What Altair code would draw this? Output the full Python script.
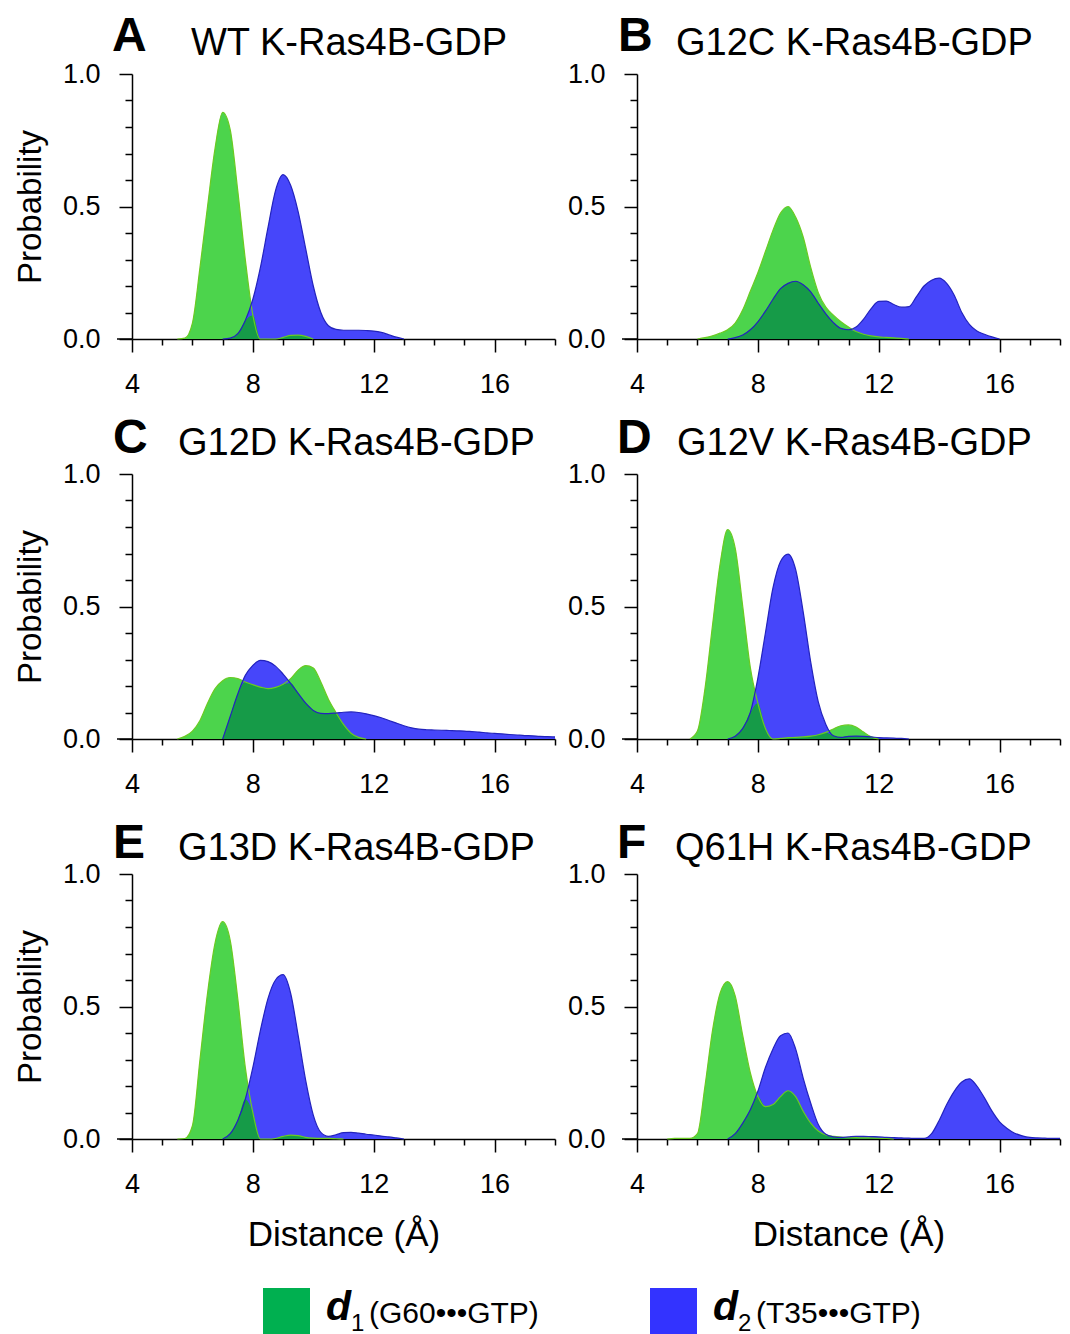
import altair as alt
import pandas as pd

N = None

# ---------------- data ----------------
DISTANCE = [5.0, 5.25, 5.5, 5.75, 6.0, 6.25, 6.5, 6.75, 7.0, 7.25, 7.5, 7.75,
            8.0, 8.25, 8.5, 8.75, 9.0, 9.25, 9.5, 9.75, 10.0, 10.25, 10.5, 10.75,
            11.0, 11.25, 11.5, 11.75, 12.0, 12.25, 12.5, 12.75, 13.0, 13.25, 13.5, 13.75,
            14.0, 14.25, 14.5, 14.75, 15.0, 15.25, 15.5, 15.75, 16.0, 16.25, 16.5, 16.75,
            17.0, 17.25, 17.5, 17.75, 18.0]

PANELS = ["A", "B", "C", "D", "E", "F"]
TITLES = ["WT K-Ras4B-GDP", "G12C K-Ras4B-GDP", "G12D K-Ras4B-GDP",
          "G12V K-Ras4B-GDP", "G13D K-Ras4B-GDP", "Q61H K-Ras4B-GDP"]

A_D1 = [N, N, 0.0, 0.003, 0.06, 0.27, 0.5, 0.72, 0.855, 0.79, 0.56, 0.3, 0.09, 0.0, 0.0, 0.0,
        0.006, 0.014, 0.015, 0.01, 0.0] + [N] * 32
A_D2 = [N] * 8 + [0.0, 0.003, 0.02, 0.07, 0.15, 0.27, 0.42, 0.56, 0.62, 0.58, 0.48, 0.34, 0.2,
                  0.1, 0.05, 0.036, 0.033, 0.033, 0.033, 0.032, 0.03, 0.025, 0.016, 0.007, 0.0] + [N] * 20

B_D1 = [N] * 4 + [0.0, 0.005, 0.012, 0.022, 0.035, 0.06, 0.11, 0.18, 0.25, 0.33, 0.41, 0.475,
                  0.5, 0.46, 0.385, 0.27, 0.175, 0.12, 0.09, 0.065, 0.045, 0.028, 0.018, 0.012,
                  0.008, 0.006, 0.004, 0.002, 0.0] + [N] * 20
B_D2 = [N] * 8 + [0.0, 0.005, 0.015, 0.035, 0.065, 0.105, 0.15, 0.19, 0.21, 0.218, 0.205, 0.178,
                  0.135, 0.095, 0.062, 0.04, 0.035, 0.045, 0.075, 0.115, 0.142, 0.143, 0.13, 0.12,
                  0.122, 0.16, 0.2, 0.222, 0.23, 0.21, 0.165, 0.1, 0.055, 0.03, 0.018, 0.008, 0.0] + [N] * 8

C_D1 = [N] * 2 + [0.0, 0.01, 0.03, 0.07, 0.135, 0.19, 0.22, 0.232, 0.228, 0.215, 0.205, 0.196,
                  0.19, 0.195, 0.207, 0.228, 0.26, 0.277, 0.268, 0.215, 0.15, 0.1, 0.055, 0.022,
                  0.006, 0.0] + [N] * 25
C_D2 = [N] * 8 + [0.0, 0.085, 0.17, 0.24, 0.278, 0.297, 0.292, 0.275, 0.245, 0.21, 0.172, 0.135,
                  0.108, 0.097, 0.096, 0.098, 0.101, 0.102, 0.1, 0.095, 0.088, 0.08, 0.07, 0.06,
                  0.05, 0.042, 0.037, 0.035, 0.034, 0.033, 0.032, 0.031, 0.03, 0.028, 0.026, 0.023,
                  0.021, 0.019, 0.017, 0.015, 0.013, 0.012, 0.01, 0.009, 0.008]

D_D1 = [N] * 3 + [0.0, 0.03, 0.19, 0.43, 0.66, 0.79, 0.72, 0.5, 0.27, 0.135, 0.04, 0.0, 0.002,
                  0.005, 0.006, 0.008, 0.011, 0.016, 0.025, 0.038, 0.05, 0.053, 0.045, 0.026,
                  0.008, 0.0] + [N] * 24
D_D2 = [N] * 8 + [0.0, 0.01, 0.04, 0.1, 0.23, 0.4, 0.57, 0.67, 0.698, 0.64, 0.48, 0.29, 0.14,
                  0.055, 0.012, 0.006, 0.01, 0.011, 0.01, 0.008, 0.005, 0.004, 0.003, 0.002, 0.0] + [N] * 20

E_D1 = [N] * 2 + [0.0, 0.002, 0.05, 0.3, 0.55, 0.74, 0.82, 0.75, 0.53, 0.27, 0.1, 0.0, 0.0,
                  0.002, 0.01, 0.015, 0.013, 0.006, 0.003, 0.002, 0.002, 0.001, 0.0] + [N] * 28
E_D2 = [N] * 8 + [0.0, 0.02, 0.07, 0.15, 0.27, 0.41, 0.53, 0.6, 0.62, 0.55, 0.39, 0.22, 0.09,
                  0.025, 0.01, 0.016, 0.024, 0.025, 0.022, 0.018, 0.015, 0.011, 0.008, 0.004, 0.0] + [N] * 20

F_D1 = [0.0, 0.002, 0.002, 0.002, 0.02, 0.2, 0.41, 0.55, 0.594, 0.54, 0.39, 0.25, 0.16, 0.122,
        0.13, 0.16, 0.182, 0.16, 0.105, 0.06, 0.03, 0.015, 0.01, 0.007, 0.005, 0.005, 0.004,
        0.004, 0.003, 0.002, 0.0] + [N] * 22
F_D2 = [N] * 8 + [0.0, 0.02, 0.06, 0.11, 0.18, 0.27, 0.34, 0.39, 0.4, 0.34, 0.23, 0.135, 0.055,
                  0.018, 0.008, 0.006, 0.008, 0.01, 0.01, 0.009, 0.008, 0.006, 0.005, 0.004, 0.003,
                  0.002, 0.002, 0.02, 0.07, 0.13, 0.18, 0.215, 0.227, 0.2, 0.155, 0.105, 0.065,
                  0.04, 0.022, 0.012, 0.006, 0.004, 0.003, 0.002, 0.002]

SERIES = {"A": (A_D1, A_D2), "B": (B_D1, B_D2), "C": (C_D1, C_D2),
          "D": (D_D1, D_D2), "E": (E_D1, E_D2), "F": (F_D1, F_D2)}

X_TICKS = [4, 5, 6, 7, 8, 9, 10, 11, 12, 13, 14, 15, 16, 17, 18]
X_MAJOR = [4, 8, 12, 16]
Y_TICKS = [0.0, 0.1, 0.2, 0.3, 0.4, 0.5, 0.6, 0.7, 0.8, 0.9, 1.0]
Y_MAJOR = [0.0, 0.5, 1.0]

LEGEND_NAMES = ["(G60\u2022\u2022\u2022GTP)", "(T35\u2022\u2022\u2022GTP)"]
LEGEND_SUBS = ["1", "2"]

# ---------------- styling ----------------
GREEN_FILL = "#4cd44c"
BLUE_FILL = "#4646fa"
OVER_FILL = "#169b48"
GREEN_LINE = "#6acb22"
BLUE_LINE = "#2323bd"
LEG_GREEN = "#00b050"
LEG_BLUE = "#3333ff"
FONT = "Liberation Sans"

PLOT_W, PLOT_H = 423, 265

# letter x, letter baseline, title x, title baseline (pixels relative to plot origin)
TITLE_POS = {
    "A": (-20, -23, 59, -19),
    "B": (-19, -23, 39, -19),
    "C": (-19, -21, 46, -19),
    "D": (-20, -21, 40, -19),
    "E": (-19, -16, 46, -14),
    "F": (-20, -16, 38, -14),
}

rows = []
for key in PANELS:
    d1, d2 = SERIES[key]
    assert len(d1) == len(DISTANCE) and len(d2) == len(DISTANCE), key
    for x, a, b in zip(DISTANCE, d1, d2):
        rows.append({"panel": key, "x": x, "d1": a, "d2": b})
df = pd.DataFrame(rows)

xsc = alt.Scale(domain=[4, 18], nice=False, zero=False)
ysc = alt.Scale(domain=[0, 1], nice=False)


def make_panel(i):
    key = PANELS[i]
    left = (i % 2 == 0)
    bottom = (i >= 4)
    x_major_test = f"indexof({X_MAJOR}, datum.value) >= 0"
    y_major_test = f"indexof({Y_MAJOR}, datum.value) >= 0"
    xaxis = alt.Axis(
        values=X_TICKS,
        labelExpr=f"{x_major_test} ? datum.label : ''",
        tickSize={"condition": {"test": x_major_test, "value": 13}, "value": 6},
        labelPadding=19,
        labelFontSize=27,
        title="Distance (\u00c5)" if bottom else None,
        titleFontSize=35,
        titlePadding=20,
        labelFlush=False,
    )
    yaxis = alt.Axis(
        values=Y_TICKS,
        format=".1f",
        labelExpr=f"{y_major_test} ? datum.label : ''",
        tickSize={"condition": {"test": y_major_test, "value": 13}, "value": 7},
        labelPadding=19,
        labelFontSize=27,
        title="Probability" if left else None,
        titleFontSize=33,
        titlePadding=15,
        labelFlush=False,
    )
    src = alt.Chart(df).transform_filter(alt.datum.panel == key)
    xenc = alt.X("x:Q", scale=xsc, axis=xaxis)

    def yenc(field):
        return alt.Y(f"{field}:Q", scale=ysc, axis=yaxis)

    g = src.transform_filter("isValid(datum.d1)")
    b = src.transform_filter("isValid(datum.d2)")
    ov = src.transform_filter("isValid(datum.d1) && isValid(datum.d2)").transform_calculate(
        ov="min(datum.d1, datum.d2)")

    green_area = g.mark_area(color=GREEN_FILL, interpolate="monotone").encode(x=xenc, y=yenc("d1"))
    blue_area = b.mark_area(color=BLUE_FILL, interpolate="monotone").encode(x=xenc, y=yenc("d2"))
    over_area = ov.mark_area(color=OVER_FILL, interpolate="monotone").encode(x=xenc, y=yenc("ov"))
    green_line = g.mark_line(color=GREEN_LINE, strokeWidth=1.2, interpolate="monotone").encode(
        x=xenc, y=yenc("d1"))
    blue_line = b.mark_line(color=BLUE_LINE, strokeWidth=1.2, interpolate="monotone").encode(
        x=xenc, y=yenc("d2"))

    lx, ly, tx, ty = TITLE_POS[key]
    tdf = pd.DataFrame({"letter": [key], "title": [TITLES[i]]})
    tsrc = alt.Chart(tdf)
    letter = tsrc.mark_text(font=FONT, fontSize=48, fontWeight="bold", align="left",
                            baseline="alphabetic", color="black").encode(
        text="letter:N", x=alt.value(lx), y=alt.value(ly))
    title = tsrc.mark_text(font=FONT, fontSize=38, align="left", baseline="alphabetic",
                           color="black").encode(
        text="title:N", x=alt.value(tx), y=alt.value(ty))
    ext = tsrc.mark_rule(color="black", strokeWidth=1.5).encode(
        x=alt.value(-15), x2=alt.value(0), y=alt.value(PLOT_H))

    layers = [green_area, blue_area, over_area, green_line, blue_line, letter, title, ext]

    if key == "A":
        layers.append(tsrc.mark_rule(opacity=0, strokeOpacity=0).encode(
            x=alt.value(-132), x2=alt.value(-131), y=alt.value(-74)))
    if key == "F":
        layers.append(tsrc.mark_rule(opacity=0, strokeOpacity=0).encode(
            x=alt.value(432), x2=alt.value(433), y=alt.value(460)))

    if bottom:
        j = 0 if key == "E" else 1
        sq_x = 131 if key == "E" else 13
        sq_col = LEG_GREEN if key == "E" else LEG_BLUE
        ldf = pd.DataFrame({"sub": [LEGEND_SUBS[j]], "name": [LEGEND_NAMES[j]], "d": ["d"]})
        lsrc = alt.Chart(ldf)
        layers.append(lsrc.mark_rect(color=sq_col).encode(
            x=alt.value(sq_x), x2=alt.value(sq_x + 47), y=alt.value(414), y2=alt.value(460)))
        layers.append(lsrc.mark_text(font=FONT, fontSize=41, fontWeight="bold", fontStyle="italic",
                                     align="left", baseline="alphabetic", color="black").encode(
            text="d:N", x=alt.value(sq_x + 63), y=alt.value(446)))
        layers.append(lsrc.mark_text(font=FONT, fontSize=24, align="left", baseline="alphabetic",
                                     color="black").encode(
            text="sub:N", x=alt.value(sq_x + 88), y=alt.value(457)))
        layers.append(lsrc.mark_text(font=FONT, fontSize=30, align="left", baseline="alphabetic",
                                     color="black").encode(
            text="name:N", x=alt.value(sq_x + 106), y=alt.value(449)))

    return alt.layer(*layers).properties(width=PLOT_W, height=PLOT_H)


panels = [make_panel(i) for i in range(6)]

chart = alt.concat(*panels, columns=2, spacing={"row": 135, "column": 82}, bounds="flush").properties(
    padding=0
).configure_view(stroke=None).configure_axis(
    domainColor="black", tickColor="black", labelColor="black", titleColor="black",
    labelFont=FONT, titleFont=FONT, titleFontWeight="normal", domainWidth=1.5, tickWidth=1.5,
    grid=False, zindex=1
)

chart.save("out.html", embed_options={"renderer": "svg", "actions": False})
